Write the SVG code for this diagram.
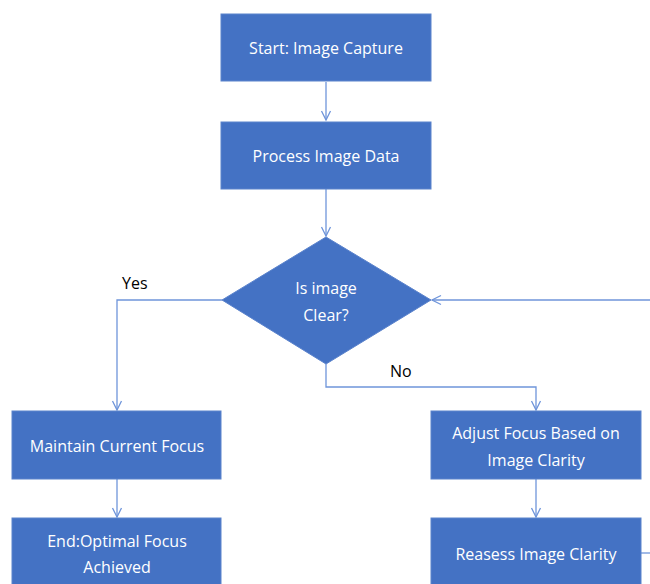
<svg xmlns="http://www.w3.org/2000/svg" width="650" height="584" viewBox="0 0 650 584">
<defs>
<style>
.box{fill:#4472C4;stroke:#5B83CC;stroke-width:1}
.t{fill:#fff;font-family:"Open Sans","Liberation Sans",sans-serif;font-size:16px;text-anchor:middle;dominant-baseline:central}
.lbl{fill:#000;font-family:"Open Sans","Liberation Sans",sans-serif;font-size:16px}
.c{fill:none;stroke:#6F95DA;stroke-width:1.3}
</style>
<marker id="a" markerWidth="12" markerHeight="12" refX="10" refY="6" orient="auto" markerUnits="userSpaceOnUse">
<path d="M1,1.5 L10,6 L1,10.5" fill="none" stroke="#6F95DA" stroke-width="1.3"/>
</marker>
</defs>
<rect width="650" height="584" fill="#fff"/>
<g id="connectors">
<line class="c" x1="326" y1="82" x2="326" y2="120" marker-end="url(#a)"/>
<line class="c" x1="326" y1="189" x2="326" y2="236" marker-end="url(#a)"/>
<polyline class="c" points="222,300 117,300 117,410" marker-end="url(#a)"/>
<polyline class="c" points="326,364 326,387 536,387 536,410" marker-end="url(#a)"/>
<line class="c" x1="117" y1="479" x2="117" y2="517" marker-end="url(#a)"/>
<line class="c" x1="536" y1="479" x2="536" y2="517" marker-end="url(#a)"/>
<line class="c" x1="641" y1="553" x2="650" y2="553"/>
<line class="c" x1="650" y1="300" x2="432" y2="300" marker-end="url(#a)"/>
</g>
<g id="start"><rect class="box" x="221" y="14" width="210" height="67"/><text class="t" x="326" y="48">Start: Image Capture</text></g>
<g id="process"><rect class="box" x="221" y="122" width="210" height="67"/><text class="t" x="326" y="156">Process Image Data</text></g>
<g id="decision"><polygon class="box" points="326,237 431,300 326,364 222,300"/><text class="t" x="326" y="288">Is image</text><text class="t" x="326" y="315">Clear?</text></g>
<g id="maintain"><rect class="box" x="12" y="411" width="209" height="68"/><text class="t" x="117" y="446">Maintain Current Focus</text></g>
<g id="end"><rect class="box" x="12" y="518" width="209" height="70"/><text class="t" x="117" y="541">End:Optimal Focus</text><text class="t" x="117" y="567">Achieved</text></g>
<g id="adjust"><rect class="box" x="431" y="411" width="210" height="68"/><text class="t" x="536" y="433">Adjust Focus Based on</text><text class="t" x="536" y="460">Image Clarity</text></g>
<g id="reasess"><rect class="box" x="431" y="518" width="210" height="70"/><text class="t" x="536" y="554">Reasess Image Clarity</text></g>
<text class="lbl" x="122" y="289">Yes</text>
<text class="lbl" x="390" y="377">No</text>
</svg>
